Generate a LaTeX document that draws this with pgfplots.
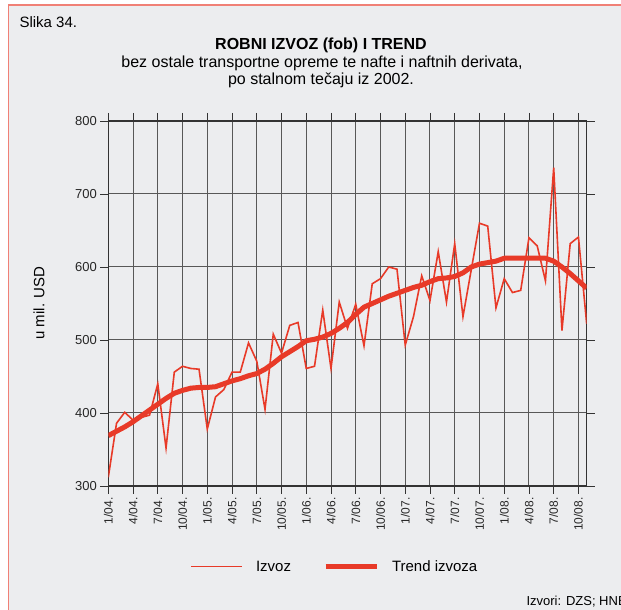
\documentclass[border=0pt]{standalone}
\usepackage{fontspec}
\setmainfont{Liberation Sans}
\usepackage{pgfplots}
\usepackage{pgfplotstable}
\pgfplotsset{compat=1.18}

\definecolor{bgc}{RGB}{236,237,239}
\definecolor{framec}{RGB}{240,128,118}
\definecolor{izv}{RGB}{232,58,40}
\definecolor{grd}{RGB}{88,88,88}

% monthly data, 1/04 = 0
\pgfplotstableread{
i izvoz trend
0 312 369
1 386 375
2 401 381
3 390 388
4 394 396
5 397 404
6 440 412
7 352 420
8 456 427
9 464 431
10 461 434
11 460 435
12 378 435
13 422 436
14 432 440
15 456 444
16 456 447
17 496 451
18 471 454
19 405 460
20 508 468
21 482 477
22 520 484
23 524 491
24 461 499
25 464 501
26 541 504
27 461 509
28 552 516
29 516 524
30 549 535
31 492 545
32 577 550
33 584 555
34 600 560
35 597 564
36 493 568
37 532 572
38 588 575
39 554 580
40 621 584
41 552 585
42 632 587
43 532 592
44 596 600
45 660 604
46 656 606
47 544 608
48 584 612
49 565 612
50 568 612
51 640 612
52 629 612
53 581 612
54 736 608
55 513 600
56 632 591
57 641 581
58 522 571
}\datatab

\begin{document}
\begin{tikzpicture}[x=1pt,y=1pt]
\useasboundingbox (0,0) rectangle (621,610);
\fill[white] (0,0) rectangle (621,610);
\fill[bgc] (8.5,0) rectangle (621,605);
\draw[framec, line width=1.2pt] (8.5,0) -- (8.5,605) -- (621,605);

\node[anchor=base west, font=\fontsize{15}{17}\selectfont] at (16,582) {Slika 34.};
\node[anchor=base, font=\fontsize{16}{18}\selectfont\bfseries] at (321,560) {ROBNI IZVOZ (fob) I TREND};
\node[anchor=base, font=\fontsize{16}{18}\selectfont] at (322,542) {bez ostale transportne opreme te nafte i naftnih derivata,};
\node[anchor=base, font=\fontsize{16}{18}\selectfont] at (321,525) {po stalnom tečaju iz 2002.};
\node[rotate=90, font=\fontsize{15}{18}\selectfont] at (39,307) {u mil. USD};
\node[anchor=base west, font=\fontsize{13}{15}\selectfont] at (523,4) {Izvori: DZS; HNB};

\begin{axis}[
    at={(108.3pt,124pt)}, anchor=south west,
    scale only axis, width=478.4pt, height=365pt,
    xmin=0, xmax=58, ymin=300, ymax=800,
    xtick={0,3,...,57},
    xticklabels={1/04.,4/04.,7/04.,10/04.,1/05.,4/05.,7/05.,10/05.,1/06.,4/06.,7/06.,10/06.,1/07.,4/07.,7/07.,10/07.,1/08.,4/08.,7/08.,10/08.},
    ytick={300,400,...,800},
    grid=major,
    grid style={draw=grd, line width=1pt},
    axis line style={draw=black!80, line width=1.6pt},
    tick align=outside,
    major tick length=8pt,
    tick style={draw=black!80, line width=0.9pt},
    xticklabel style={rotate=90, anchor=east, font=\fontsize{12}{14}\selectfont, text=black!85},
    yticklabel style={font=\fontsize{13}{15}\selectfont, text=black!85},
    /pgf/number format/assume math mode=true,
    legend columns=2,
    legend style={at={(0.165,-0.221)}, anchor=west, draw=none, fill=none,
        font=\fontsize{15}{18}\selectfont,
        /tikz/every odd column/.append style={column sep=11pt},
        /tikz/every even column/.append style={column sep=30pt}},
    legend image code/.code={\draw[#1] (0pt,0pt) -- (51pt,0pt);},
]
\addplot[izv, line width=1.6pt, mark=none] table[x=i, y=izvoz] {\datatab};
\addlegendentry{Izvoz}
\addplot[izv, line width=5pt, line join=round, mark=none] table[x=i, y=trend] {\datatab};
\addlegendentry{Trend izvoza}
\end{axis}
\end{tikzpicture}
\end{document}
